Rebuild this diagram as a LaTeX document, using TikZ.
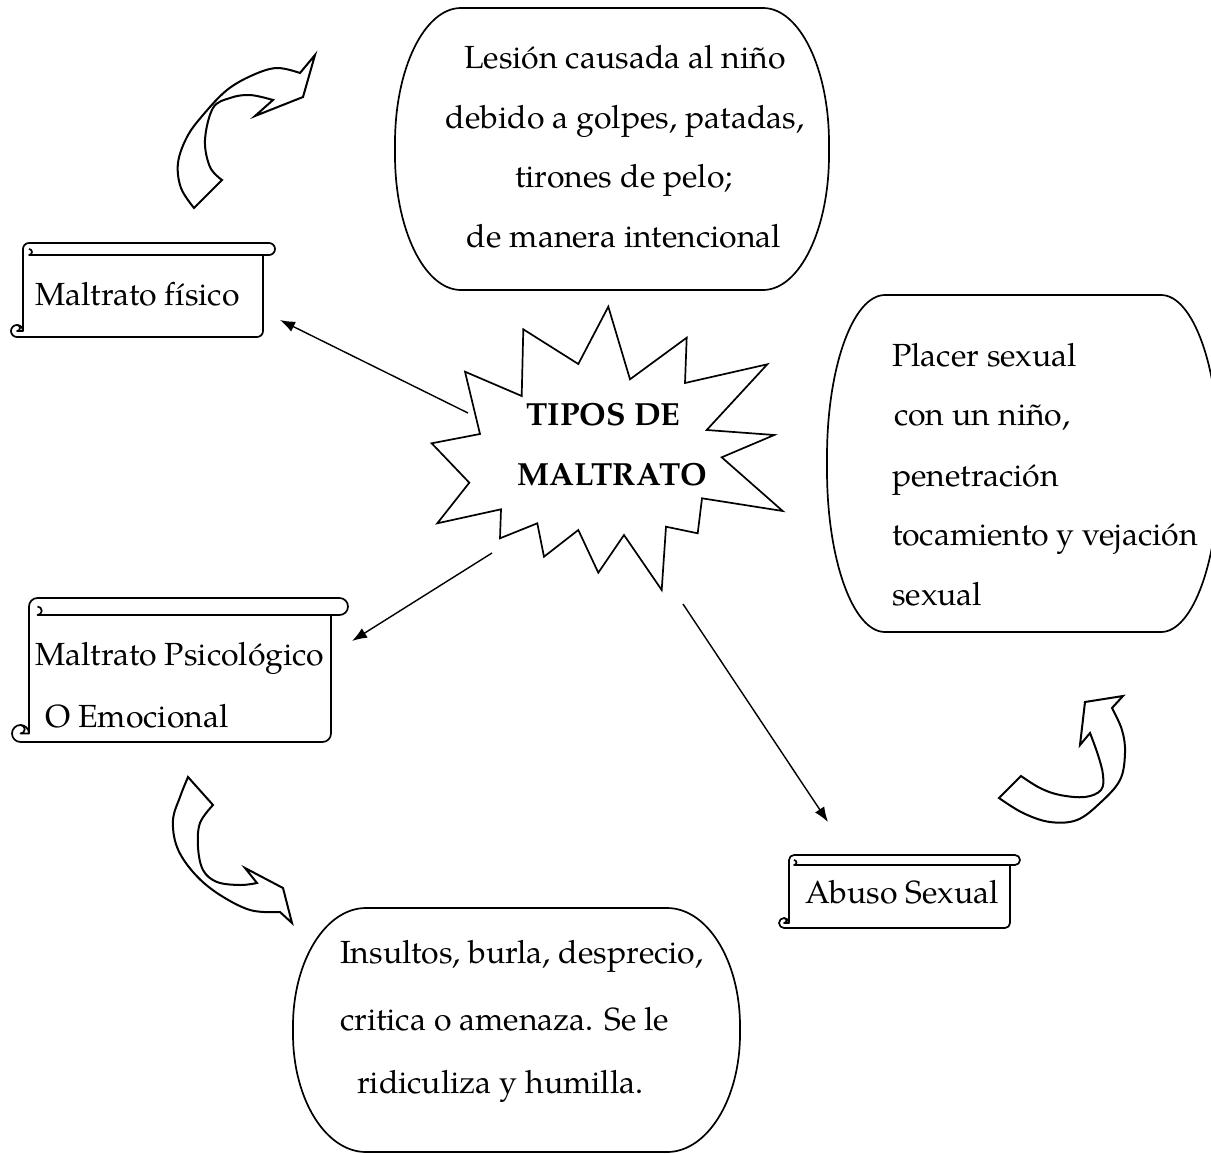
\documentclass[tikz,border=0pt]{standalone}
\usepackage{fontspec}
\setmainfont{TeX Gyre Pagella}
\usetikzlibrary{arrows.meta}

\newcommand\myscroll[5]{%
 \pgfmathsetmacro\mysL{#1}\pgfmathsetmacro\mysT{#2}\pgfmathsetmacro\mysR{#3}\pgfmathsetmacro\mysB{#4}\pgfmathsetmacro\mysC{#5}%
 \pgfmathsetmacro\mysH{#5/2}\pgfmathsetmacro\mysQ{#5/4}%
 \draw[shapeline,fill=white] ({\mysL+\mysC},{\mysT+\mysH}) arc[start angle=180,end angle=270,radius=\mysH] -- ({\mysR-\mysH},\mysT) arc[start angle=270,end angle=450,radius=\mysH] -- ({\mysR-\mysC},{\mysT+\mysC}) -- ({\mysR-\mysC},{\mysB-\mysH}) arc[start angle=0,end angle=90,radius=\mysH] -- ({\mysL+\mysH},\mysB) arc[start angle=90,end angle=360,radius=\mysH] -- cycle;
 \draw[shapeline] ({\mysR-\mysC},{\mysT+\mysC}) -- ({\mysL+1.5*\mysC},{\mysT+\mysC}) arc[start angle=90,end angle=-90,radius=\mysQ];
 \draw[shapeline] ({\mysL+\mysH},{\mysB-\mysC}) arc[start angle=270,end angle=450,radius=\mysQ] -- ({\mysL+\mysC},{\mysB-\mysH});
}
\newcommand\myoval[6]{%
 \draw[shapeline,fill=white] ({#1+#5},#2) -- ({#3-#5},#2) arc[start angle=270,end angle=360,x radius=#5,y radius=#6] -- (#3,{#4-#6}) arc[start angle=0,end angle=90,x radius=#5,y radius=#6] -- ({#1+#5},#4) arc[start angle=90,end angle=180,x radius=#5,y radius=#6] -- (#1,{#2+#6}) arc[start angle=180,end angle=270,x radius=#5,y radius=#6] -- cycle;
}

\begin{document}
\begin{tikzpicture}[x=1pt,y=-1pt,
  shapeline/.style={line width=1.7pt, line join=round},
  conn/.style={line width=1.4pt, -{Latex[length=15pt,width=11pt]}},
  txt/.style={font=\fontsize{32}{38}\selectfont, inner sep=0pt, anchor=base west},
  ctxt/.style={txt, anchor=base},
  btxt/.style={font=\fontsize{32}{38}\selectfont\bfseries, inner sep=0pt, anchor=base},
  blockarrow/.style={line width=2pt, line join=miter, fill=white}]

\useasboundingbox (0,0) rectangle (1211,1154);
\clip (0,0) rectangle (1211,1154);

% ---- rounded text boxes
\myoval{395}{8}{829}{290}{66}{135}
\myoval{827}{295}{1219}{632}{58}{162}
\myoval{293}{908}{740}{1152}{73}{118}

% ---- scrolls
\myscroll{11}{243}{275}{337}{12}
\myscroll{12}{598}{348}{742}{17}
\myscroll{779}{855}{1020}{928}{10}

% ---- star
\draw[shapeline, line join=miter] (608.3,306.7) -- (630,379.3) -- (686.7,337.7) -- (685,383) -- (767.3,364.3) -- (706.7,430) -- (774.3,435) -- (721.7,457.3) -- (782.7,511) -- (702,498.3) -- (697.7,533.3) -- (666,526.7) -- (661.7,590) -- (624,535) -- (598.3,572.7) -- (578.3,530) -- (544,556.7) -- (537.3,523.3) -- (500,538.3) -- (501,509.3) -- (437.3,523.3) -- (469.3,482.7) -- (431.7,443.3) -- (480,434) -- (465,371.7) -- (521.7,396) -- (523.3,329.3) -- (578.3,364) -- cycle;
\node[btxt] (c1) at (603.5,425) {TIPOS DE};
\node[btxt] (c2) at (612,485) {MALTRATO};

% ---- texts
\node[ctxt] (p1) at (625,68) {Lesión causada al niño};
\node[ctxt] (p2) at (625,128) {debido a golpes, patadas,};
\node[ctxt] (p3) at (624,187) {tirones de pelo;};
\node[ctxt] (p4) at (624,247) {de manera intencional};

\node[txt] (s1) at (892,366.7) {Placer sexual};
\node[txt] (s2) at (894,425) {con un niño,};
\node[txt] (s3) at (892,486.7) {penetración};
\node[txt] (s4) at (892,545) {tocamiento y vejación};
\node[txt] (s5) at (892,605) {sexual};

\node[txt] (e1) at (340,963) {Insultos, burla, desprecio,};
\node[txt] (e2) at (340,1030) {critica o amenaza. Se le};
\node[txt] (e3) at (357,1093) {ridiculiza y humilla.};

\node[txt] (mf) at (35,305) {Maltrato físico};
\node[txt] (mp1) at (35,665) {Maltrato Psicológico};
\node[txt] (mp2) at (45,727) {O Emocional};
\node[txt] (as) at (805,903) {Abuso Sexual};

% ---- straight connectors
\coordinate (a1s) at (468,413); \coordinate (a1e) at (280,320);
\coordinate (a2s) at (492,553); \coordinate (a2e) at (352,641);
\coordinate (a3s) at (683,604); \coordinate (a3e) at (828,822);
\draw[conn] (a1s) -- (a1e);
\draw[conn] (a2s) -- (a2e);
\draw[conn] (a3s) -- (a3e);

% ---- curved block arrows
\draw[blockarrow] plot[smooth,tension=0.6] coordinates {(194,208) (181,188) (178,163) (187,137) (203,115) (227,90) (253,75) (277,68) (300,73)} -- (315,55) -- (303,97) -- (255,116) -- (273,100) -- plot[smooth,tension=0.6] coordinates {(273,100) (250,95) (230,98) (213,108) (205,140) (210,167) (222,180)} -- cycle;

\draw[blockarrow] plot[smooth,tension=0.6] coordinates {(188,777) (180,797) (173,820) (177,847) (193,872) (217,893) (250,910) (280,912)} -- (292,923) -- (283,888) -- (245,868) -- (257,883) -- plot[smooth,tension=0.6] coordinates {(257,883) (240,885) (217,882) (203,870) (198,847) (200,823) (213,805)} -- cycle;

\draw[blockarrow] plot[smooth,tension=0.6] coordinates {(999,798) (1023,813) (1050,822) (1077,820) (1100,803) (1120,780) (1125,753) (1122,730) (1112,708)} -- (1123,696) -- (1085,702) -- (1080,745) -- (1090,733) -- plot[smooth,tension=0.6] coordinates {(1090,733) (1098,755) (1103,775) (1101,790) (1085,797) (1060,795) (1040,788) (1021,776)} -- cycle;

\end{tikzpicture}
\end{document}
